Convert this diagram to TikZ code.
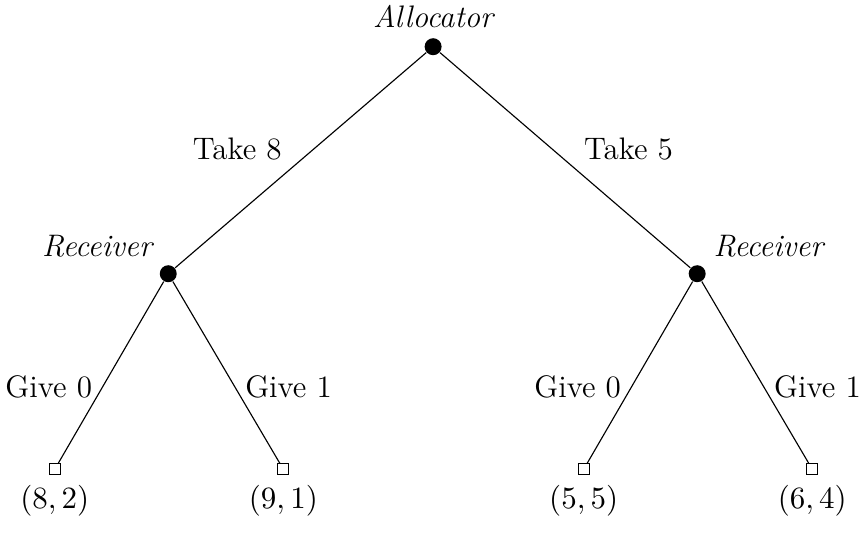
\documentclass[tikz,border=0pt]{standalone}
\usepackage{amsmath}
\usepackage{tikz}
\usetikzlibrary{positioning}

\begin{document}
\begin{tikzpicture}[font=\fontsize{11}{13}\selectfont,
    decision/.style={circle, fill=black, inner sep=0pt, minimum size=6pt},
    terminal/.style={draw, rectangle, inner sep=0pt, minimum size=3.9pt},
    player/.style={font=\fontsize{11}{13}\selectfont\itshape},
    move/.style={midway, inner sep=0pt}]
  \useasboundingbox (0,0) rectangle (10.67,-6.87);
  % decision nodes
  \node[decision, label={[player]above:Allocator}] (alloc) at (5.38,-0.58) {};
  \node[decision, label={[player]above left:Receiver}] (recA) at (2.09,-3.40) {};
  \node[decision, label={[player]above right:Receiver}] (recB) at (8.66,-3.40) {};
  % terminal nodes with payoffs
  \node[terminal, label=below:{$(8,2)$}] (endAA) at (0.68,-5.83) {};
  \node[terminal, label=below:{$(9,1)$}] (endAB) at (3.52,-5.83) {};
  \node[terminal, label=below:{$(5,5)$}] (endBA) at (7.25,-5.83) {};
  \node[terminal, label=below:{$(6,4)$}] (endBB) at (10.09,-5.83) {};
  % moves
  \draw (alloc) -- node[move, left, xshift=-6.5pt, yshift=4pt]{Take 8} (recA);
  \draw (alloc) -- node[move, right, xshift=6.5pt, yshift=4pt]{Take 5} (recB);
  \draw (recA) -- node[move, left, xshift=-6.5pt, yshift=-5pt]{Give 0} (endAA);
  \draw (recA) -- node[move, right, xshift=6.5pt, yshift=-5pt]{Give 1} (endAB);
  \draw (recB) -- node[move, left, xshift=-6.5pt, yshift=-5pt]{Give 0} (endBA);
  \draw (recB) -- node[move, right, xshift=6.5pt, yshift=-5pt]{Give 1} (endBB);
\end{tikzpicture}
\end{document}
